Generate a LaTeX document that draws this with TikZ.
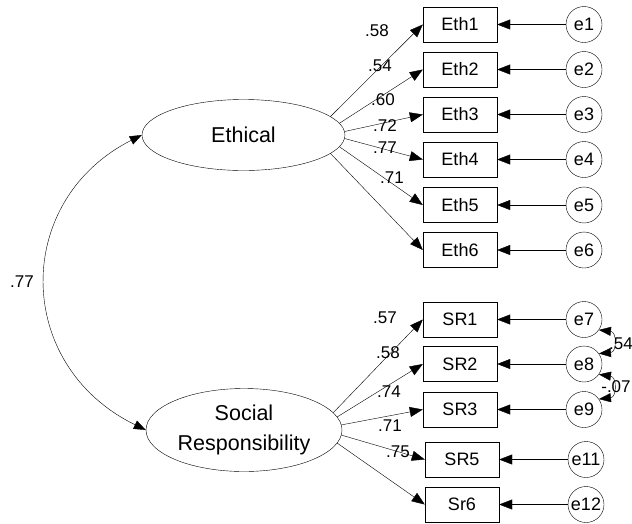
\documentclass[tikz,border=0pt]{standalone}
\usepackage{fontspec}
\setmainfont{Liberation Sans}
\usetikzlibrary{arrows.meta,shapes.geometric}

\tikzset{
  every picture/.style={x=1pt,y=-1pt},
  line width=1pt,
  tip/.style={-{Triangle[length=13pt,width=10pt]}},
  dtip/.style={{Triangle[length=12pt,width=9pt]}-{Triangle[length=12pt,width=9pt]}},
  latent/.style={draw,ellipse,inner sep=0pt,font=\fontsize{21.5}{30}\selectfont,align=center},
  obs/.style={draw,rectangle,minimum width=74pt,minimum height=35pt,inner sep=0pt,font=\fontsize{18}{20}\selectfont},
  err/.style={draw,circle,minimum size=36pt,inner sep=0pt,font=\fontsize{18}{20}\selectfont},
  coef/.style={inner sep=0pt,font=\fontsize{17}{18}\selectfont},
}

\begin{document}
\begin{tikzpicture}
\useasboundingbox (0,0) rectangle (632,523);

% latent factors
\node[latent,minimum width=203pt,minimum height=71pt] (eth) at (243.5,135) {Ethical};
\node[latent,minimum width=196pt,minimum height=83pt] (sr) at (244,430) {Social\\Responsibility};

% indicators of Ethical, paths leave the factor near its right end
\foreach \i/\y/\a in {1/24.5/12,2/69.5/7.5,3/114.5/2.8,4/159.5/-2.8,5/205/-7.5,6/250/-12}{
  \node[obs] (eth\i) at (460,\y) {Eth\i};
  \node[err] (e\i) at (584,\y) {e\i};
  \draw[tip] (eth.\a) -- (eth\i.west);
  \draw[tip] (e\i.west) -- (eth\i.east);
}

% indicators of Social Responsibility
\node[obs] (sr1) at (460,319.5) {SR1};
\node[obs] (sr2) at (460,364) {SR2};
\node[obs] (sr3) at (460,409.5) {SR3};
\node[obs] (sr5) at (462,459.5) {SR5};
\node[obs] (sr6) at (462,504.5) {Sr6};
\node[err] (e7) at (584,319.5) {e7};
\node[err] (e8) at (584,364) {e8};
\node[err] (e9) at (584,409.5) {e9};
\node[err] (e11) at (586,459.5) {e11};
\node[err] (e12) at (586,504.5) {e12};

\foreach \b/\e/\a in {sr1/e7/11.5,sr2/e8/8,sr3/e9/3,sr5/e11/-3,sr6/e12/-8}{
  \draw[tip] (sr.\a) -- (\b.west);
  \draw[tip] (\e.west) -- (\b.east);
}

% covariances
\draw[dtip] (eth.west) .. controls (13,200) and (13,365) .. (sr.west);
\draw[dtip] (e7.-35) .. controls (617,332) and (617,352) .. (e8.35);
\draw[dtip] (e8.-35) .. controls (617,377) and (617,397) .. (e9.35);

% estimates
\node[coef] (c77) at (22,282) {.77};
\node[coef] (l1) at (377,31) {.58};
\node[coef] (l2) at (380,66) {.54};
\node[coef] (l3) at (383,100) {.60};
\node[coef] (l4) at (385,126) {.72};
\node[coef] (l5) at (385,148) {.77};
\node[coef] (l6) at (392,178) {.71};
\node[coef] (l7) at (385,318) {.57};
\node[coef] (l8) at (388,353) {.58};
\node[coef] (l9) at (389,392) {.74};
\node[coef] (l10) at (390,426) {.71};
\node[coef] (l11) at (398,452) {.75};
\node[coef] (c54) at (621,344) {.54};
\node[coef] (c07) at (616,387) {-.07};
\end{tikzpicture}
\end{document}
